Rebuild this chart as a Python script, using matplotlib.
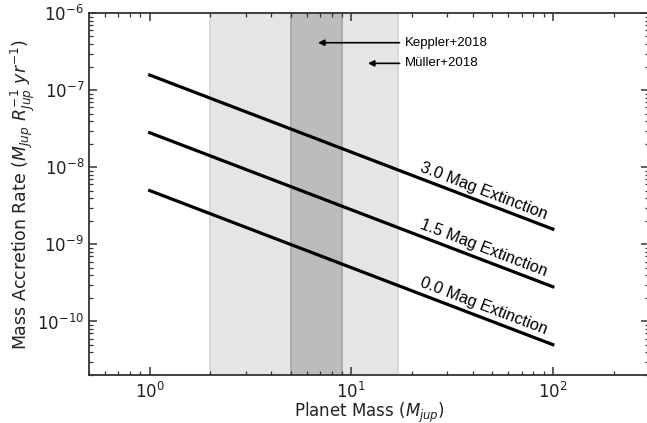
import numpy as np
import matplotlib
matplotlib.use("Agg")
import matplotlib.pyplot as plt
from matplotlib.ticker import NullFormatter, LogLocator

# planet masses (M_jup) at the ends of each line
masses = [1.0, 100.0]
rate_00 = [5.0e-9, 5.0e-11]
rate_15 = [2.82e-8, 2.82e-10]
rate_30 = [1.58e-7, 1.58e-9]
labels = ["0.0 Mag Extinction", "1.5 Mag Extinction", "3.0 Mag Extinction"]

# mass ranges from the literature
mueller_range = [2.0, 17.0]
keppler_range = [5.0, 9.0]

xticks = [1, 10, 100]
yticks = [1e-10, 1e-9, 1e-8, 1e-7, 1e-6]

fig = plt.figure(figsize=(6.47, 4.23), dpi=100)
ax = fig.add_axes([89 / 647, 1 - 375.3 / 423, (649 - 89) / 647, (375.3 - 13.3) / 423])

ax.axvspan(mueller_range[0], mueller_range[1], facecolor="#e5e5e5", edgecolor="#d3d3d3", lw=1.2, zorder=0)
ax.axvspan(keppler_range[0], keppler_range[1], facecolor="#bcbcbc", edgecolor="#a6a6a6", lw=1.2, zorder=1)

for r in [rate_00, rate_15, rate_30]:
    ax.plot(masses, r, color="k", lw=2.3, zorder=3)

ax.set_xscale("log")
ax.set_yscale("log")
ax.set_xticks(xticks)
ax.set_yticks(yticks)
ax.xaxis.set_minor_locator(LogLocator(subs=np.arange(2, 10)))
ax.yaxis.set_minor_locator(LogLocator(subs=np.arange(2, 10)))
ax.xaxis.set_minor_formatter(NullFormatter())
ax.yaxis.set_minor_formatter(NullFormatter())
ax.set_xlim(0.5, 300)
ax.set_ylim(2e-11, 1e-6)

# labels along the lines
fig.canvas.draw()
for r, lab in zip([rate_00, rate_15, rate_30], labels):
    p1 = ax.transData.transform((masses[0], r[0]))
    p2 = ax.transData.transform((masses[1], r[1]))
    ang = np.degrees(np.arctan2(p2[1] - p1[1], p2[0] - p1[0]))
    xt = 21.5
    yt = r[0] * (masses[0] / xt) * 1.13
    ax.text(xt, yt, lab, rotation=ang, rotation_mode="anchor", ha="left", va="bottom",
            fontsize=11.8, family="Liberation Sans", color="k", zorder=4)

ax.annotate("Keppler+2018", xy=(6.84, 4.15e-7), xytext=(18.5, 4.15e-7),
            ha="left", va="center", fontsize=9.5, family="Liberation Sans",
            arrowprops=dict(arrowstyle="-|>", color="k", lw=1.2, shrinkA=2, shrinkB=0, mutation_scale=9))
ax.annotate("Müller+2018", xy=(12.1, 2.24e-7), xytext=(18.5, 2.24e-7),
            ha="left", va="center", fontsize=9.5, family="Liberation Sans",
            arrowprops=dict(arrowstyle="-|>", color="k", lw=1.2, shrinkA=2, shrinkB=0, mutation_scale=9))

for s in ax.spines.values():
    s.set_color("#333333")
    s.set_linewidth(1.3)
ax.tick_params(which="both", direction="in", top=True, right=True, colors="#333333", labelcolor="#222222", labelsize=12)
ax.tick_params(which="major", length=6, width=1.1)
ax.tick_params(which="minor", length=3, width=0.9)
ax.tick_params(axis="x", which="major", pad=4.5)

ax.set_xlabel(r"Planet Mass ($M_{jup}$)", fontsize=12, color="#222222", labelpad=-0.5)
ax.set_ylabel(r"Mass Accretion Rate ($M_{Jup}\ R_{Jup}^{-1}\ yr^{-1}$)", fontsize=12.5, color="#222222", labelpad=0)

fig.savefig("out.png", dpi=100)
